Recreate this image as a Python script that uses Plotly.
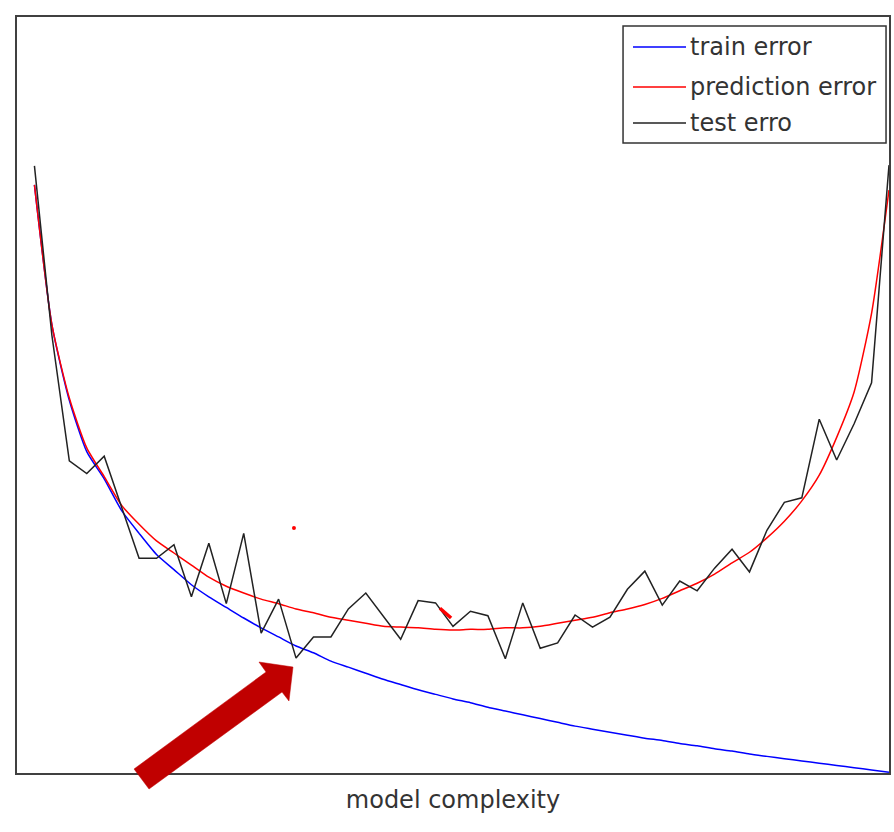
import plotly.graph_objects as go

# model complexity steps
complexity = list(range(1, 51))

train_error = [77.8, 59.3, 49.3, 42.5, 38.9, 34.7, 31.7, 28.9, 26.9, 24.9,
               23.3, 21.9, 20.5, 19.2, 18.0, 16.8, 15.9, 14.8, 14.0, 13.2,
               12.4, 11.7, 11.0, 10.4, 9.8, 9.3, 8.7, 8.2, 7.7, 7.2,
               6.7, 6.2, 5.8, 5.4, 5.0, 4.6, 4.3, 3.9, 3.6, 3.2,
               2.9, 2.5, 2.2, 1.9, 1.6, 1.3, 1.0, 0.7, 0.4, 0.1]

prediction_error = [77.8, 59.3, 49.6, 43.0, 39.2, 35.4, 32.9, 30.7, 29.1, 27.5,
                    25.9, 24.7, 23.8, 23.0, 22.4, 21.7, 21.2, 20.6, 20.2, 19.8,
                    19.4, 19.3, 19.2, 19.0, 18.9, 19.0, 19.0, 19.2, 19.2, 19.4,
                    19.8, 20.2, 20.6, 21.2, 21.7, 22.3, 23.1, 24.1, 25.1, 26.3,
                    27.8, 29.2, 31.1, 33.3, 36.0, 39.4, 44.4, 50.4, 60.8, 77.1]

test_error = [80.3, 57.9, 41.3, 39.6, 41.9, 35.2, 28.4, 28.4, 30.2, 23.3,
              30.4, 22.4, 31.7, 18.5, 23.0, 15.2, 18.0, 18.0, 21.7, 23.8,
              20.8, 17.7, 22.8, 22.5, 19.4, 21.4, 20.8, 15.1, 22.5, 16.5,
              17.2, 20.9, 19.3, 20.6, 24.3, 26.7, 22.2, 25.4, 24.1, 27.1,
              29.6, 26.6, 32.1, 35.8, 36.4, 46.8, 41.4, 46.2, 51.6, 80.4]

# stray red fragments seen in the original figure
stray_segment_x = [24.25, 24.89]
stray_segment_y = [21.8, 20.5]
stray_dot_x = [15.88]
stray_dot_y = [32.4]

legend_labels = ["train error", "prediction error", "test erro"]
legend_colors = ["#0000FF", "#FF0000", "#222222"]

fig = go.Figure()
fig.add_trace(go.Scatter(x=complexity, y=train_error, mode="lines", line_shape="spline",
                         line=dict(color="#0000FF", width=1.5, smoothing=0.6),
                         name="train error", showlegend=False))
fig.add_trace(go.Scatter(x=complexity, y=prediction_error, mode="lines", line_shape="spline",
                         line=dict(color="#FF0000", width=1.5, smoothing=0.6),
                         name="prediction error", showlegend=False))
fig.add_trace(go.Scatter(x=complexity, y=test_error, mode="lines",
                         line=dict(color="#222222", width=1.5), name="test erro", showlegend=False))
fig.add_trace(go.Scatter(x=stray_segment_x, y=stray_segment_y, mode="lines",
                         line=dict(color="#FF0000", width=3.5), showlegend=False, hoverinfo="skip"))
fig.add_trace(go.Scatter(x=stray_dot_x, y=stray_dot_y, mode="markers",
                         marker=dict(color="#FF0000", size=4), showlegend=False, hoverinfo="skip"))

# custom legend box (paper coordinates)
shapes = [dict(type="rect", xref="paper", yref="paper", x0=0.695, x1=0.9966, y0=0.8333, y1=0.988,
               line=dict(color="#333333", width=1.5), fillcolor="white", layer="above")]
annotations = []
row_y = [0.9603, 0.9074, 0.8598]
for lab, col, yy in zip(legend_labels, legend_colors, row_y):
    shapes.append(dict(type="line", xref="paper", yref="paper", x0=0.7064, x1=0.7672, y0=yy, y1=yy,
                       line=dict(color=col, width=1.5), layer="above"))
    annotations.append(dict(text=lab, xref="paper", yref="paper", x=0.7695, y=yy,
                            xanchor="left", yanchor="middle", showarrow=False,
                            font=dict(family="DejaVu Sans", size=24, color="#333333")))

# big dark red arrow pointing at the curves
arrow_pts = [(0.1342, 0.0053), (0.2856, 0.1336), (0.2775, 0.1468), (0.3165, 0.1402),
             (0.3119, 0.0952), (0.3039, 0.1071), (0.1514, -0.0212)]
path = "M " + " L ".join(f"{x},{y}" for x, y in arrow_pts) + " Z"
shapes.append(dict(type="path", xref="paper", yref="paper", path=path,
                   fillcolor="#C00000", line=dict(color="#C00000", width=0.5), layer="above"))

fig.update_layout(
    width=894, height=832,
    margin=dict(l=17, r=5, t=17, b=59),
    paper_bgcolor="white", plot_bgcolor="white",
    shapes=shapes, annotations=annotations,
    xaxis=dict(range=[0, 50], showgrid=False, zeroline=False, showticklabels=False, ticks="",
               showline=True, mirror=True, linecolor="#404040", linewidth=2,
               title=dict(text="model complexity", standoff=17,
                          font=dict(family="DejaVu Sans", size=24, color="#333333"))),
    yaxis=dict(range=[0, 100], showgrid=False, zeroline=False, showticklabels=False, ticks="",
               showline=True, mirror=True, linecolor="#404040", linewidth=2),
)
fig.update_xaxes(automargin=False)
fig.update_yaxes(automargin=False)

fig.write_html("out.html")
